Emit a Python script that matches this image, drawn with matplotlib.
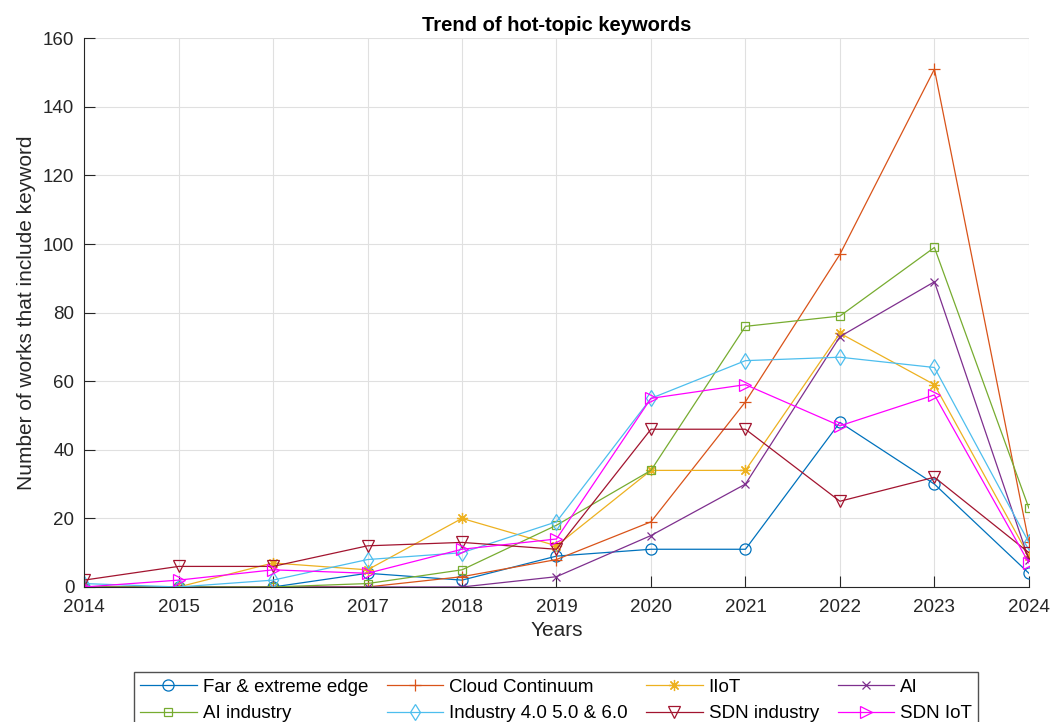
import matplotlib.pyplot as plt

plt.rcParams['font.family'] = ['Liberation Sans', 'DejaVu Sans']

years = [2014, 2015, 2016, 2017, 2018, 2019, 2020, 2021, 2022, 2023, 2024]

far_edge = [0, 0, 0, 4, 2, 9, 11, 11, 48, 30, 4]
cloud_continuum = [0, 0, 0, 0, 3, 8, 19, 54, 97, 151, 13]
iiot = [0, 0, 7, 5, 20, 12, 34, 34, 74, 59, 9]
ai = [0, 0, 0, 0, 0, 3, 15, 30, 73, 89, 8]
ai_industry = [0, 0, 0, 1, 5, 18, 34, 76, 79, 99, 23]
industry_4_5_6 = [1, 0, 2, 8, 10, 19, 55, 66, 67, 64, 13]
sdn_industry = [2, 6, 6, 12, 13, 11, 46, 46, 25, 32, 10]
sdn_iot = [0, 2, 5, 4, 11, 14, 55, 59, 47, 56, 7]

# name, values, marker, marker size, colour
series = [
    ('Far & extreme edge', far_edge, 'o', 8, '#0072BD'),
    ('Cloud Continuum', cloud_continuum, '+', 8, '#D95319'),
    ('IIoT', iiot, (8, 2, 0), 8, '#EDB120'),
    ('AI', ai, 'x', 6, '#7E2F8E'),
    ('AI industry', ai_industry, 's', 5.5, '#77AC30'),
    ('Industry 4.0 5.0 & 6.0', industry_4_5_6, 'd', 8, '#4DBEEE'),
    ('SDN industry', sdn_industry, 'v', 9, '#A2142F'),
    ('SDN IoT', sdn_iot, '>', 9, '#FF00FF'),
]

axcol = '#262626'

fig = plt.figure(figsize=(10.64, 7.22), dpi=100)
ax = fig.add_axes([0.079, 0.187, 0.888, 0.760])

handles = []
for name, vals, mk, ms, col in series:
    h, = ax.plot(years, vals, marker=mk, color=col, lw=0.9, ms=ms,
                 markerfacecolor='none', markeredgewidth=0.9, label=name)
    handles.append(h)

ax.set_xlim(2014, 2024)
ax.set_ylim(0, 160)
ax.set_xticks(years)
ax.set_yticks(range(0, 161, 20))
ax.grid(True, color='#e0e0e0', lw=0.8)
ax.set_axisbelow(True)
for s in ['top', 'right']:
    ax.spines[s].set_visible(False)
for s in ['left', 'bottom']:
    ax.spines[s].set_color(axcol)
ax.tick_params(direction='in', length=8, width=0.8, colors=axcol, labelsize=13.5)
ax.tick_params(axis='x', pad=9)
ax.tick_params(axis='y', pad=7)

ax.set_title('Trend of hot-topic keywords', fontsize=14.5, fontweight='bold', pad=5)
ax.set_xlabel('Years', fontsize=15, color=axcol, labelpad=3)
ax.set_ylabel('Number of works that include keyword', fontsize=15, color=axcol, labelpad=5)

# legend filled row by row: 4 columns, 2 rows
order = [0, 4, 1, 5, 2, 6, 3, 7]
fig.legend([handles[i] for i in order], [series[i][0] for i in order],
           loc='upper center', bbox_to_anchor=(0.5226, 0.0693), ncol=4,
           fontsize=13.5, frameon=True, fancybox=False, edgecolor=axcol,
           handlelength=3.0, columnspacing=1.0, handletextpad=0.32,
           borderpad=0.35, labelspacing=0.5, borderaxespad=0)

fig.savefig('out.png', dpi=100, facecolor='white')
